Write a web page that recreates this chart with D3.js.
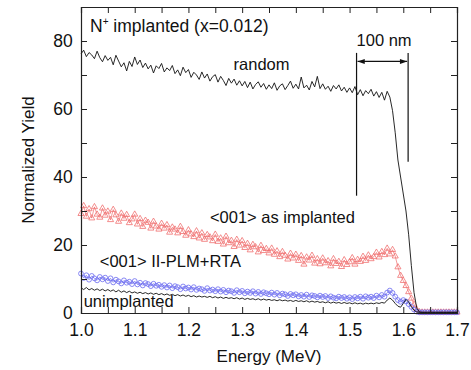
<!DOCTYPE html>
<html>
<head>
<meta charset="utf-8">
<script src="https://cdn.jsdelivr.net/npm/d3@7"></script>
<style>
  body { margin: 0; background: #fff; }
  text { font-family: Arial, "Liberation Sans", sans-serif; fill: #111; }
</style>
</head>
<body>
<figure id="rbsChart" style="margin:0"></figure>
<script>
// Channel energies: start at 1.000 MeV, one channel every 0.005 MeV
const E0 = 1.0;
const STEP = 0.005;

const xTicks = [1.0, 1.1, 1.2, 1.3, 1.4, 1.5, 1.6, 1.7];
const yTicks = [0, 20, 40, 60, 80];

// random spectrum
const randomYield = [
  76.2, 77.3, 75.4, 76.6, 75.9, 74.8, 77.0, 75.1, 73.9, 75.7,
  74.3, 75.2, 73.0, 75.8, 74.1, 72.4, 73.6, 71.2, 74.0, 72.5,
  75.3, 73.1, 74.4, 72.2, 73.5, 71.8, 72.9, 70.6, 72.7, 71.9,
  73.4, 70.9, 72.1, 71.3, 72.8, 70.4, 71.5, 69.8, 72.3, 70.7,
  71.6, 69.3, 70.8, 70.0, 68.7, 70.9, 69.1, 70.3, 68.2, 69.5,
  70.1, 67.9, 69.6, 68.4, 66.9, 69.0, 67.6, 68.8, 67.0, 68.3,
  66.8, 68.1, 66.3, 67.9, 65.9, 67.2, 68.0, 66.4, 67.5, 65.8,
  67.1, 66.0, 67.7, 65.5, 66.8, 67.4, 65.7, 66.9, 68.2, 66.1,
  67.3, 65.9, 69.4, 66.2, 67.0, 65.6, 68.1, 66.5, 69.6, 66.0,
  67.4, 65.8, 66.7, 65.2, 66.9, 65.9, 67.1, 65.3, 66.4, 64.9,
  66.2, 64.8, 66.6, 64.2, 65.7, 63.9, 65.4, 64.5, 65.8, 63.8,
  65.1, 63.4, 64.9, 62.6, 65.2, 63.5, 59.5, 53.0, 45.0, 40.0,
  35.0, 30.0, 23.0, 14.0, 6.0, 1.5, 0.3, 0.2, 0.2, 0.2,
  0.2, 0.2, 0.2, 0.2, 0.2, 0.2, 0.2, 0.2, 0.2, 0.2, 0.2
];

// <001> as implanted
const asImplanted = [
  29.2, 31.5, 28.4, 30.6, 27.9, 31.2, 29.0, 28.1, 30.8, 28.7,
  29.9, 27.4, 30.4, 28.8, 26.9, 29.3, 27.8, 28.9, 26.5, 27.6,
  29.0, 26.1, 27.7, 25.4, 27.2, 26.6, 24.9, 26.9, 25.5, 24.6,
  26.3, 24.9, 25.9, 23.7, 25.2, 24.6, 23.5, 25.4, 23.9, 22.8,
  24.4, 23.2, 22.4, 24.1, 22.0, 23.5, 21.6, 23.0, 22.3, 21.2,
  23.1, 21.0, 22.0, 20.2, 22.5, 20.6, 21.3, 19.5, 21.6, 19.9,
  21.2, 19.2, 20.4, 18.5, 20.1, 19.4, 17.9, 19.8, 18.3, 18.9,
  17.6, 19.0, 17.2, 18.2, 16.5, 18.0, 16.9, 15.8, 17.5, 16.1,
  17.2, 15.4, 16.8, 14.3, 16.4, 15.5, 16.9, 14.6, 15.9, 14.4,
  16.1, 14.7, 15.3, 13.8, 15.9, 14.5, 15.1, 13.6, 15.6, 14.2,
  15.0, 16.2, 14.3, 15.7, 15.1, 16.6, 15.4, 17.0, 15.9, 16.5,
  17.8, 16.4, 18.0, 17.1, 19.0, 17.3, 18.6, 16.7, 13.5, 11.0,
  9.5, 8.0, 6.2, 4.3, 2.5, 1.0, 0.3, 0.2, 0.2, 0.2,
  0.2, 0.2, 0.2, 0.2, 0.2, 0.2, 0.2, 0.2, 0.2, 0.2, 0.2
];

// <001> II-PLM+RTA
const plmRta = [
  11.6, 10.3, 11.1, 9.8, 10.9, 10.2, 9.6, 10.6, 9.9, 10.4,
  9.4, 10.2, 9.0, 9.8, 9.3, 8.7, 9.6, 8.9, 9.2, 8.5,
  9.4, 8.4, 8.9, 8.1, 8.8, 8.5, 7.9, 8.6, 8.0, 8.3,
  7.7, 8.2, 7.5, 8.1, 7.3, 7.9, 7.6, 7.0, 7.8, 7.2,
  7.5, 6.9, 7.6, 6.8, 7.2, 7.0, 6.5, 7.3, 6.6, 6.9,
  6.4, 7.0, 6.3, 6.8, 6.1, 6.6, 6.4, 5.9, 6.7, 6.1,
  6.5, 5.8, 6.3, 5.9, 6.4, 5.7, 6.2, 5.6, 6.1, 5.8,
  5.5, 6.0, 5.4, 5.9, 5.2, 5.7, 5.5, 5.0, 5.6, 5.2,
  5.5, 4.9, 5.3, 4.8, 5.4, 4.7, 5.2, 5.0, 4.6, 5.1,
  4.7, 5.0, 4.4, 4.9, 4.5, 4.3, 4.8, 4.4, 4.7, 4.2,
  4.6, 4.1, 4.7, 4.3, 4.8, 4.2, 4.9, 4.5, 4.8, 4.4,
  5.1, 4.6, 5.3, 4.8, 6.0, 6.6, 5.9, 4.8, 3.8, 3.3,
  3.8, 3.4, 2.6, 1.8, 1.0, 0.4, 0.2, 0.2, 0.2, 0.2,
  0.2, 0.2, 0.2, 0.2, 0.2, 0.2, 0.2, 0.2, 0.2, 0.2, 0.2
];

// unimplanted
const unimplanted = [
  7.4, 6.9, 7.5, 6.8, 7.2, 6.7, 7.1, 6.6, 7.0, 6.5,
  6.9, 6.4, 6.8, 6.2, 6.7, 6.1, 6.5, 6.0, 6.4, 5.9,
  6.2, 5.8, 6.1, 5.7, 6.0, 5.6, 5.9, 5.5, 5.8, 5.4,
  5.7, 5.3, 5.6, 5.2, 5.5, 5.1, 5.4, 5.0, 5.3, 4.9,
  5.2, 4.8, 5.1, 4.7, 5.0, 4.7, 4.9, 4.6, 4.9, 4.5,
  4.8, 4.4, 4.7, 4.3, 4.6, 4.3, 4.5, 4.2, 4.5, 4.1,
  4.4, 4.0, 4.3, 4.0, 4.2, 3.9, 4.2, 3.8, 4.1, 3.8,
  4.0, 3.7, 3.9, 3.6, 3.9, 3.6, 3.8, 3.5, 3.7, 3.4,
  3.7, 3.4, 3.6, 3.3, 3.6, 3.2, 3.5, 3.2, 3.4, 3.1,
  3.3, 3.0, 3.3, 2.9, 3.2, 2.9, 3.1, 2.8, 3.1, 2.8,
  3.0, 2.7, 3.0, 2.7, 2.9, 2.6, 2.9, 2.7, 2.9, 2.7,
  3.0, 2.8, 3.1, 2.9, 3.8, 4.4, 3.8, 2.8, 2.0, 1.7,
  2.8, 4.0, 3.2, 1.9, 0.8, 0.3, 0.2, 0.2, 0.2, 0.2,
  0.2, 0.2, 0.2, 0.2, 0.2, 0.2, 0.2, 0.2, 0.2, 0.2, 0.2
];

// 100 nm depth window (energies of the two markers)
const depthMarks = [1.513, 1.609];

const margin = { top: 7, right: 14, bottom: 57, left: 81 };
const width = 471 - margin.left - margin.right;
const height = 370 - margin.top - margin.bottom;

const svg = d3.select('figure#rbsChart')
  .append('svg')
  .attr('width', 471)
  .attr('height', 370)
  .append('g')
  .attr('transform', `translate(${margin.left}, ${margin.top})`);

const x = d3.scaleLinear().domain([1.0, 1.7]).range([0, width]);
const y = d3.scaleLinear().domain([0, 90]).range([height, 0]);

const toPoints = arr => arr.map((v, i) => ({ e: E0 + i * STEP, v }));

const line = d3.line().x(d => x(d.e)).y(d => y(d.v));

// red triangles (as implanted)
const red = toPoints(asImplanted);
svg.append('path').datum(red)
  .attr('d', line).attr('fill', 'none')
  .attr('stroke', '#e83030').attr('stroke-width', 0.7).attr('opacity', 0.7);
svg.append('g').selectAll('path')
  .data(red).enter().append('path')
  .attr('d', d3.symbol(d3.symbolTriangle, 16))
  .attr('transform', d => `translate(${x(d.e)},${y(d.v)})`)
  .attr('fill', 'none').attr('stroke', '#f07070').attr('stroke-width', 0.8);

// blue circles (II-PLM+RTA)
const blue = toPoints(plmRta);
svg.append('path').datum(blue)
  .attr('d', line).attr('fill', 'none')
  .attr('stroke', '#4040e0').attr('stroke-width', 0.7).attr('opacity', 0.7);
svg.append('g').selectAll('circle')
  .data(blue).enter().append('circle')
  .attr('cx', d => x(d.e)).attr('cy', d => y(d.v)).attr('r', 2.4)
  .attr('fill', 'none').attr('stroke', '#6a6af0').attr('stroke-width', 0.8);

// black lines
svg.append('path').datum(toPoints(unimplanted))
  .attr('d', line).attr('fill', 'none')
  .attr('stroke', '#111').attr('stroke-width', 0.9);
svg.append('path').datum(toPoints(randomYield))
  .attr('d', line).attr('fill', 'none')
  .attr('stroke', '#111').attr('stroke-width', 0.9);

// axes: ticks inward on all four sides
const tickLen = -6;
const xAxisB = d3.axisBottom(x).tickValues(d3.range(1.0, 1.7001, 0.05))
  .tickSize(tickLen).tickFormat(d => (Math.round(d * 100) % 10 === 0 ? d3.format('.1f')(d) : ''));
const xAxisT = d3.axisTop(x).tickValues(d3.range(1.0, 1.7001, 0.05)).tickSize(tickLen).tickFormat('');
const yAxisL = d3.axisLeft(y).tickValues(d3.range(0, 90, 10)).tickSize(tickLen)
  .tickFormat(d => (yTicks.includes(d) ? d : ''));
const yAxisR = d3.axisRight(y).tickValues(d3.range(0, 90, 10)).tickSize(tickLen).tickFormat('');

const styleAxis = g => {
  g.selectAll('path.domain').attr('stroke', '#222').attr('stroke-width', 1.2);
  g.selectAll('.tick line').attr('stroke', '#222').attr('stroke-width', 1);
  g.selectAll('.tick text').style('font-size', '17.5px').attr('fill', '#111');
};

svg.append('g').attr('transform', `translate(0,${height})`).call(xAxisB).call(styleAxis)
  .selectAll('.tick text').attr('dy', '1.15em');
svg.append('g').call(xAxisT).call(styleAxis);
svg.append('g').call(yAxisL).call(styleAxis)
  .selectAll('.tick text').attr('dx', '-0.3em');
svg.append('g').attr('transform', `translate(${width},0)`).call(yAxisR).call(styleAxis);

// axis titles
svg.append('text')
  .attr('x', width / 2).attr('y', height + 49)
  .attr('text-anchor', 'middle').style('font-size', '17px')
  .text('Energy (MeV)');
svg.append('text')
  .attr('transform', `translate(${-47},${height / 2}) rotate(-90)`)
  .attr('text-anchor', 'middle').style('font-size', '17px')
  .text('Normalized Yield');

// 100 nm window markers
svg.append('line')
  .attr('x1', x(depthMarks[0])).attr('x2', x(depthMarks[0]))
  .attr('y1', y(76.5)).attr('y2', y(34.5))
  .attr('stroke', '#111').attr('stroke-width', 1.2);
svg.append('line')
  .attr('x1', x(depthMarks[1])).attr('x2', x(depthMarks[1]))
  .attr('y1', y(76.5)).attr('y2', y(44.5))
  .attr('stroke', '#111').attr('stroke-width', 1.2);

svg.append('defs').append('marker')
  .attr('id', 'arrow').attr('viewBox', '0 0 10 10')
  .attr('refX', 10).attr('refY', 5)
  .attr('markerWidth', 8).attr('markerHeight', 6)
  .attr('orient', 'auto-start-reverse')
  .append('path').attr('d', 'M0,1.5 L10,5 L0,8.5 Z').attr('fill', '#111');

svg.append('line')
  .attr('x1', x(depthMarks[0]) + 1).attr('x2', x(depthMarks[1]) - 1)
  .attr('y1', y(74)).attr('y2', y(74))
  .attr('stroke', '#111').attr('stroke-width', 1.2)
  .attr('marker-start', 'url(#arrow)').attr('marker-end', 'url(#arrow)');

// annotations
const title = svg.append('text').attr('x', 9).attr('y', 25).style('font-size', '17.5px');
title.append('tspan').text('N');
title.append('tspan').attr('dy', -7).style('font-size', '10px').text('+');
title.append('tspan').attr('dy', 7).text(' implanted (x=0.012)');

const label = (t, e, v) => svg.append('text')
  .attr('x', x(e)).attr('y', y(v)).style('font-size', '16.5px').text(t);
label('100 nm', 1.513, 78.5);
label('random', 1.284, 71.5);
label('<001> as implanted', 1.24, 26.5);
label('<001> II-PLM+RTA', 1.035, 13.5);
label('unimplanted', 1.005, 1.8);
</script>
</body>
</html>
